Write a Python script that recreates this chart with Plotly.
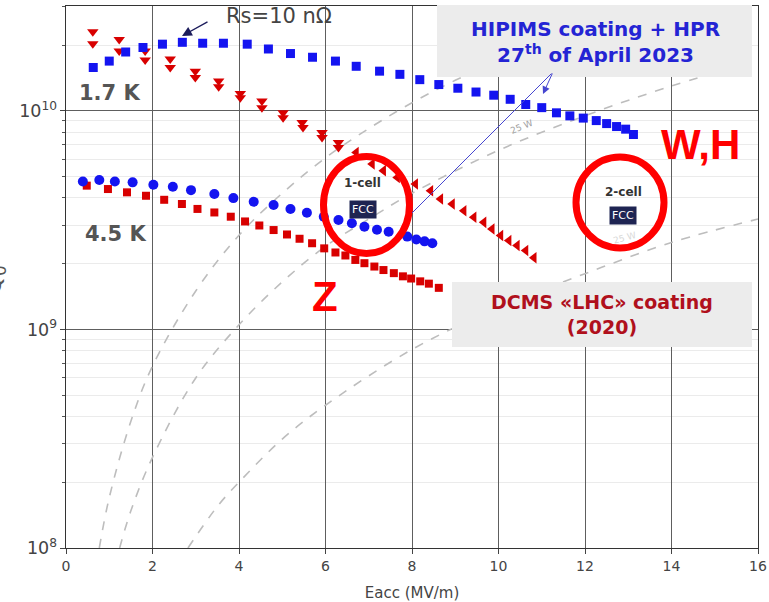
import plotly.graph_objects as go

# ---------------- data ----------------
# HIPIMS coating + HPR, 1.7 K (blue squares)
hip17_e = [0.63, 1.00, 1.38, 1.78, 2.23, 2.69, 3.16, 3.64, 4.19, 4.68, 5.19, 5.70, 6.23, 6.71,
           7.25, 7.72, 8.18, 8.62, 9.06, 9.48, 9.89, 10.27, 10.63, 11.00, 11.34, 11.65, 11.96,
           12.26, 12.50, 12.73, 12.94, 13.12]
hip17_q = [1.58e10, 1.69e10, 1.86e10, 1.95e10, 2.02e10, 2.06e10, 2.04e10, 2.04e10, 2.02e10,
           1.92e10, 1.83e10, 1.76e10, 1.69e10, 1.60e10, 1.52e10, 1.47e10, 1.39e10, 1.32e10,
           1.27e10, 1.22e10, 1.18e10, 1.13e10, 1.07e10, 1.035e10, 9.8e9, 9.49e9, 9.27e9,
           9.03e9, 8.75e9, 8.48e9, 8.25e9, 7.8e9]

# HIPIMS coating + HPR, 4.5 K (blue circles)
hip45_e = [0.39, 0.77, 1.13, 1.54, 2.02, 2.47, 2.89, 3.43, 3.87, 4.34, 4.80, 5.19, 5.57, 5.96,
           6.30, 6.61, 6.90, 7.19, 7.46, 7.89, 8.10, 8.29, 8.47]
hip45_q = [4.75e9, 4.83e9, 4.75e9, 4.71e9, 4.59e9, 4.50e9, 4.34e9, 4.17e9, 3.99e9, 3.84e9,
           3.71e9, 3.56e9, 3.42e9, 3.28e9, 3.17e9, 3.06e9, 2.95e9, 2.86e9, 2.80e9, 2.66e9,
           2.58e9, 2.53e9, 2.48e9]

# DCMS "LHC" coating 2020, 1.7 K (red triangles) - low field part
dc17a_e = [0.62, 0.62, 1.23, 1.23, 1.83, 1.83, 2.41, 2.41, 2.99, 2.99, 3.53, 3.53, 4.03, 4.03,
           4.53, 4.53, 5.02, 5.02, 5.46, 5.48, 5.92, 5.92, 6.30, 6.30]
dc17a_q = [2.30e10, 2.03e10, 2.12e10, 1.88e10, 1.88e10, 1.71e10, 1.73e10, 1.58e10, 1.52e10,
           1.42e10, 1.37e10, 1.29e10, 1.20e10, 1.15e10, 1.11e10, 1.035e10, 9.8e9, 9.3e9,
           8.85e9, 8.4e9, 7.96e9, 7.55e9, 7.16e9, 6.8e9]
# DCMS 1.7 K - high field part
dc17b_e = [6.71, 7.08, 7.34, 7.66, 8.08, 8.43, 8.66, 8.93, 9.20, 9.43, 9.66, 9.85, 10.05,
           10.24, 10.43, 10.63, 10.82]
dc17b_q = [6.45e9, 5.71e9, 5.33e9, 4.96e9, 4.63e9, 4.31e9, 3.95e9, 3.75e9, 3.49e9, 3.26e9,
           3.09e9, 2.88e9, 2.69e9, 2.55e9, 2.42e9, 2.30e9, 2.13e9]

# DCMS 4.5 K (red squares)
dc45_e = [0.48, 0.97, 1.41, 1.85, 2.27, 2.68, 3.04, 3.43, 3.81, 4.14, 4.47, 4.80, 5.11, 5.40,
          5.69, 5.97, 6.23, 6.46, 6.69, 6.90, 7.13, 7.34, 7.58, 7.79, 7.98, 8.19, 8.39, 8.62]
dc45_q = [4.55e9, 4.39e9, 4.24e9, 4.09e9, 3.92e9, 3.75e9, 3.56e9, 3.43e9, 3.28e9, 3.12e9,
          2.99e9, 2.85e9, 2.72e9, 2.60e9, 2.48e9, 2.35e9, 2.25e9, 2.18e9, 2.08e9, 2.01e9,
          1.94e9, 1.87e9, 1.81e9, 1.75e9, 1.71e9, 1.66e9, 1.62e9, 1.55e9]

# dashed power-reference curves (traced)
pa_e = [0.77, 1.0, 1.5, 2.0, 3.0, 4.0, 5.0, 6.0, 7.0, 8.0, 9.0, 10.0, 11.0, 12.0, 13.4]
pa_q = [1.0e8, 1.7e8, 3.8e8, 6.8e8, 1.5e9, 2.7e9, 4.2e9, 6.1e9, 8.3e9, 1.09e10, 1.38e10,
        1.7e10, 2.06e10, 2.45e10, 3.05e10]
pb_e = [1.24, 1.5, 2.0, 3.0, 4.0, 5.0, 6.0, 7.0, 8.0, 10.0, 12.0, 14.0, 16.0]
pb_q = [1.0e8, 1.48e8, 2.6e8, 6.0e8, 1.05e9, 1.65e9, 2.4e9, 3.2e9, 4.2e9, 6.6e9, 9.5e9,
        1.3e10, 1.7e10]
pc_e = [2.82, 3.5, 4.0, 5.0, 6.0, 8.0, 10.0, 12.0, 14.0, 16.0]
pc_q = [1.0e8, 1.55e8, 2.0e8, 3.15e8, 4.5e8, 8.1e8, 1.26e9, 1.8e9, 2.5e9, 3.2e9]

x_ticks = [0, 2, 4, 6, 8, 10, 12, 14, 16]

# ---------------- figure ----------------
BLUE = "#1414f0"
RED = "#d80000"

fig = go.Figure()
for e, q in [(pa_e, pa_q), (pb_e, pb_q), (pc_e, pc_q)]:
    fig.add_trace(go.Scatter(x=e, y=q, mode="lines", line=dict(color="#bdbdbd", width=1.6, dash="dash",
                                                              shape="spline"), hoverinfo="skip"))

fig.add_trace(go.Scatter(x=dc45_e, y=dc45_q, mode="markers",
                         marker=dict(symbol="square", size=8, color=RED)))
fig.add_trace(go.Scatter(x=hip45_e, y=hip45_q, mode="markers",
                         marker=dict(symbol="circle", size=10, color=BLUE)))
fig.add_trace(go.Scatter(x=dc17a_e, y=dc17a_q, mode="markers",
                         marker=dict(symbol="triangle-down", size=10, color=RED)))
fig.add_trace(go.Scatter(x=dc17b_e, y=dc17b_q, mode="markers",
                         marker=dict(symbol="triangle-left", size=10, color=RED)))
fig.add_trace(go.Scatter(x=hip17_e, y=hip17_q, mode="markers",
                         marker=dict(symbol="square", size=9, color=BLUE)))

# plot area in pixels
L, R, T, B = 66, 758, 6, 548


def px(x):
    return (x - L) / (R - L)


def py(y):
    return (B - y) / (B - T)


shapes = [
    dict(type="rect", xref="paper", yref="paper", x0=px(437), x1=px(752), y0=py(77), y1=py(5),
         fillcolor="#ececec", line=dict(width=0), layer="above"),
    dict(type="rect", xref="paper", yref="paper", x0=px(452), x1=px(752), y0=py(347), y1=py(282),
         fillcolor="#ececec", line=dict(width=0), layer="above"),
    dict(type="circle", xref="paper", yref="paper", x0=px(323.5), x1=px(409.5), y0=py(253.5),
         y1=py(156.5), line=dict(color="#ff0000", width=7), layer="above"),
    dict(type="circle", xref="paper", yref="paper", x0=px(576), x1=px(664), y0=py(248),
         y1=py(157), line=dict(color="#ff0000", width=7), layer="above"),
]

FONT = "DejaVu Sans"


def txt(x, y, s, size, color, bold=False, **kw):
    if bold:
        s = "<b>" + s + "</b>"
    d = dict(xref="paper", yref="paper", x=px(x), y=py(y), text=s, showarrow=False,
             font=dict(family=FONT, size=size, color=color), xanchor="center", yanchor="middle")
    d.update(kw)
    return d


annotations = [
    txt(110, 93, "1.7 K", 21, "#555555", True),
    txt(116, 234, "4.5 K", 21, "#555555", True),
    txt(279, 16, "Rs=10 nΩ", 21, "#444444"),
    dict(xref="paper", yref="paper", x=px(182), y=py(36), text="", showarrow=True, ax=27, ay=-15,
         arrowcolor="#1c1c5c", arrowwidth=1.4, arrowhead=2, arrowsize=1.4),
    dict(xref="paper", yref="paper", x=px(543), y=py(94), text="", showarrow=True, ax=10, ay=-22,
         arrowcolor="#4646d0", arrowwidth=1, arrowhead=2, arrowsize=1.5),
    dict(xref="paper", yref="paper", x=px(412), y=py(213), text="", showarrow=True, ax=141, ay=-141,
         arrowcolor="#4646d0", arrowwidth=1, arrowhead=0),
    txt(595, 42, "HIPIMS coating + HPR<br>27<sup>th</sup> of April 2023", 20, "#2424d4", True),
    txt(602, 315, "DCMS «LHC» coating<br>(2020)", 19, "#b0101c", True),
    txt(362, 182.5, "1-cell", 12, "#333333", True),
    txt(362.5, 209, "FCC", 11, "#ffffff", False, bgcolor="#1e2452", borderpad=2),
    txt(623, 192.5, "2-cell", 12, "#333333", True),
    txt(623, 215, "FCC", 11, "#ffffff", False, bgcolor="#1e2452", borderpad=2),
    txt(521, 127, "25 W", 9, "#a0a0a0", False, textangle=-22),
    txt(624, 238, "25 W", 9, "#d8d8d8", False, textangle=-15),
    dict(xref="paper", yref="paper", x=px(324.5), y=py(296), text="<b>Z</b>", showarrow=False,
         font=dict(family="Liberation Sans Narrow, Liberation Sans", size=42, color="#ff0000"),
         xanchor="center", yanchor="middle"),
    dict(xref="paper", yref="paper", x=px(700), y=py(144), text="<b>W,H</b>", showarrow=False,
         font=dict(family="Liberation Sans Narrow, Liberation Sans", size=42, color="#ff0000"),
         xanchor="center", yanchor="middle"),
    dict(xref="paper", yref="paper", x=px(-6), y=py(280), text="Q<sub>0</sub>", showarrow=False,
         textangle=-90, font=dict(family=FONT, size=24, color="#555555"),
         xanchor="center", yanchor="middle"),
]

fig.update_layout(
    width=769, height=602,
    margin=dict(l=L, r=769 - R, t=T, b=602 - B, autoexpand=False),
    paper_bgcolor="white", plot_bgcolor="white",
    showlegend=False, hovermode=False,
    shapes=shapes, annotations=annotations,
    xaxis=dict(range=[0, 16], tickvals=x_ticks, ticks="outside", ticklen=5, tickcolor="#444",
               showgrid=True, gridcolor="#5e5e5e", gridwidth=1, zeroline=False,
               showline=True, linecolor="#333333", linewidth=1.2, mirror=True, automargin=False,
               tickfont=dict(family=FONT, size=14, color="#444444"),
               title=dict(text="Eacc (MV/m)", font=dict(family=FONT, size=15, color="#444444"),
                          standoff=14)),
    yaxis=dict(type="log", range=[8, 10.48], dtick=1, exponentformat="power",
               ticks="outside", ticklen=5, tickcolor="#444", automargin=False,
               showgrid=True, gridcolor="#5e5e5e", gridwidth=1, zeroline=False,
               showline=True, linecolor="#333333", linewidth=1.2, mirror=True,
               tickfont=dict(family=FONT, size=14, color="#444444"),
               minor=dict(dtick="D1", showgrid=True, gridcolor="#ebebeb", ticks="outside",
                          ticklen=3, tickcolor="#555555")),
)

fig.write_html("out.html", config={"displayModeBar": False, "staticPlot": True},
               post_script="document.body.style.margin='0';document.body.style.overflow='hidden';")
